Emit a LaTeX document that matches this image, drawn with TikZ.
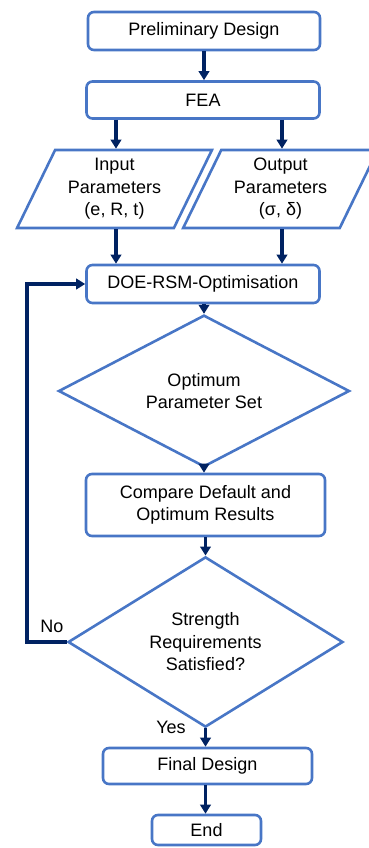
\documentclass[tikz,border=0pt]{standalone}
\usepackage{fontspec}
\setmainfont{Liberation Sans}
\usetikzlibrary{shapes.geometric,arrows.meta}
\definecolor{boxblue}{RGB}{72,118,198}
\definecolor{arrnavy}{RGB}{0,34,98}

\begin{document}
\begin{tikzpicture}[
  x=1pt, y=-1pt,
  font=\fontsize{18}{22.5}\selectfont,
  box/.style={draw=boxblue, line width=2.6pt, rounded corners=6pt, align=center, inner sep=0pt},
  para/.style={draw=boxblue, line width=2.6pt, trapezium, trapezium left angle=64, trapezium right angle=116,
    trapezium stretches=true, align=center, inner sep=0pt, minimum width=195, minimum height=78},
  dec/.style={draw=boxblue, line width=2.6pt, diamond, align=center, inner sep=0pt},
  arr/.style={draw=arrnavy, line width=3.2pt, -{Triangle[width=10.5pt,length=9pt]}}
]
\path[use as bounding box, clip] (0,0) rectangle (369,848);
% boxes
\node[box, minimum width=232, minimum height=38] (pd) at (204,31) {Preliminary Design};
\node[box, minimum width=233, minimum height=37] (fea) at (203,100) {FEA};
\node[para] (inp) at (114.5,189) {Input\\Parameters\\(e, R, t)};
\node[para] (outp) at (280.5,189) {Output\\Parameters\\(σ, δ)};
\node[box, minimum width=233, minimum height=38] (doe) at (203,284) {DOE-RSM-Optimisation};
\node[dec, minimum width=291, minimum height=112] (opt) at (204,391) {Optimum\\Parameter Set};
\node[box, minimum width=239, minimum height=62] (cmp) at (205.5,505) {Compare Default and\\Optimum Results};
\node[dec, minimum width=275, minimum height=150] (chk) at (205.5,642) {Strength\\Requirements\\Satisfied?};
\node[box, minimum width=209, minimum height=36] (fin) at (207.5,766) {Final Design};
\node[box, minimum width=109, minimum height=30] (fend) at (206.5,830) {End};
\coordinate (back) at (27,642);
% connectors
\draw[arr] (pd.south) -- (pd.south |- fea.north);
\draw[arr] (fea.south -| 116,0) -- (inp.north -| 116,0);
\draw[arr] (fea.south -| 282,0) -- (outp.north -| 282,0);
\draw[arr] (inp.south -| 116,0) -- (doe.north -| 116,0);
\draw[arr] (outp.south -| 282,0) -- (doe.north -| 282,0);
\draw[arr] (doe.south -| opt.north) -- (opt.north);
\draw[arr] (opt.south) -- (opt.south |- cmp.north);
\draw[arr] (cmp.south -| chk.north) -- (chk.north);
\draw[arr] (chk.south) -- (chk.south |- fin.north);
\draw[arr] (fin.south -| chk.south) -- (fend.north -| chk.south);
\draw[arr] (chk.west) -- (back) |- (doe.west);
\node (no) at (52,626) {No};
\node (yes) at (171,727) {Yes};
\end{tikzpicture}
\end{document}
